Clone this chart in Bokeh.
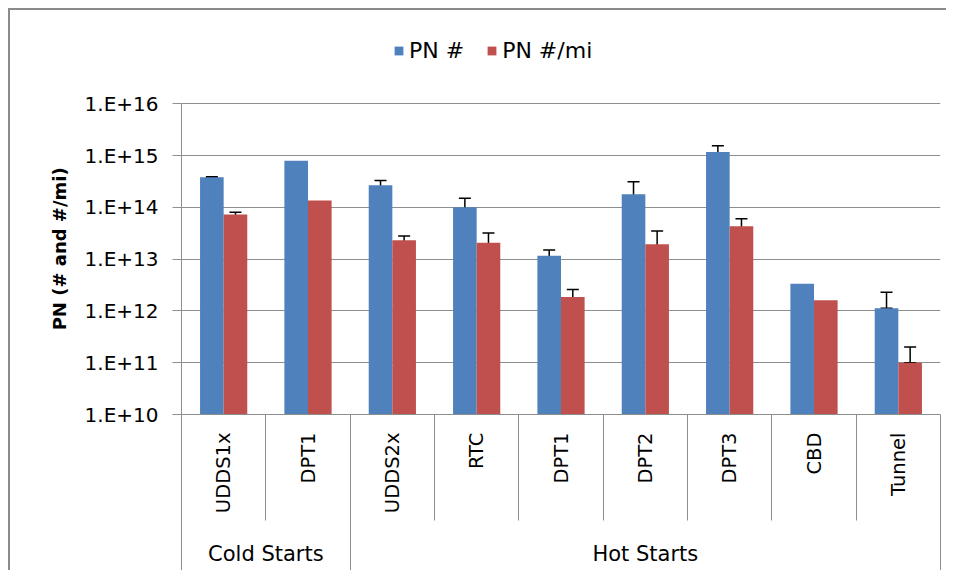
import math
from bokeh.plotting import figure
from bokeh.models import (ColumnDataSource, Range1d, LinearAxis, FixedTicker,
                          Whisker, TeeHead, Legend, LegendItem)
from bokeh.transform import dodge
from bokeh.embed import file_html
from bokeh.resources import INLINE

# ---------------- data ----------------
groups = ["Cold Starts", "Cold Starts", "Hot Starts", "Hot Starts", "Hot Starts",
          "Hot Starts", "Hot Starts", "Hot Starts", "Hot Starts"]
cycles = ["UDDS1x", "DPT1", "UDDS2x", "RTC", "DPT1", "DPT2", "DPT3", "CBD", "Tunnel"]

series_names = ["PN #", "PN #/mi"]
pn_total = [3.8e14, 7.9e14, 2.66e14, 1.0e14, 1.16e13, 1.78e14, 1.17e15, 3.35e12, 1.12e12]
pn_total_upper = [3.9e14, None, 3.3e14, 1.5e14, 1.5e13, 3.1e14, 1.55e15, None, 2.3e12]
pn_total_lower = [3.72e14, None, 2.1e14, 4.3e13, 7.7e12, 4.8e13, 8.2e14, None, 1.12e12]
pn_mile = [7.3e13, 1.36e14, 2.3e13, 2.07e13, 1.86e12, 1.93e13, 4.3e13, 1.6e12, 1.0e11]
pn_mile_upper = [8.0e13, None, 2.8e13, 3.2e13, 2.6e12, 3.5e13, 6.0e13, None, 2.0e11]
pn_mile_lower = [6.5e13, None, 1.8e13, 1.0e13, 1.3e12, 5.1e12, 2.9e13, None, 1.0e11]

y_ticks = [1e10, 1e11, 1e12, 1e13, 1e14, 1e15, 1e16]
y_tick_labels = ["1.E+10", "1.E+11", "1.E+12", "1.E+13", "1.E+14", "1.E+15", "1.E+16"]
y_title = "PN (# and #/mi)"

# ---------------- styles / layout ----------------
BLUE = "#4F81BD"
RED = "#C0504D"
GRID = "#8e8e8e"
FONT = "DejaVu Sans"
BAR_W = 0.28
OFF = 0.14
H, TOP, BOTTOM = 562, 10, 158
DECADE_PX = 51.8   # pixels per decade on the value axis
# headroom above the top tick so the legend sits inside the drawing frame
y_top = y_ticks[-1] * 10 ** ((H - TOP - BOTTOM) / DECADE_PX - (len(y_ticks) - 1))
# the axis title is centred on the whole frame; pad its far end so it centres on the ticked span
TITLE_PAD = "\u00a0" * 10

n = len(cycles)
centers = [i + 0.5 for i in range(n)]          # category slot centres on the index scale
bounds = [float(i) for i in range(n + 1)]       # category slot boundaries

source = ColumnDataSource(dict(x=centers, total=pn_total, mile=pn_mile))


def err_source(upper, lower):
    keep = [i for i in range(n) if upper[i] is not None]
    return ColumnDataSource(dict(x=[centers[i] for i in keep],
                                 upper=[upper[i] for i in keep],
                                 lower=[lower[i] for i in keep]))


p = figure(width=938, height=H,
           x_range=Range1d(bounds[0], bounds[-1]),
           y_range=Range1d(y_ticks[0], y_top), y_axis_type="log",
           x_axis_location=None, output_backend="svg", toolbar_location=None,
           min_border_left=171, min_border_right=8, min_border_top=TOP, min_border_bottom=BOTTOM)
p.styles = {"margin-left": "8px", "margin-top": "8px",
            "border-top": "2px solid #8a8a8a", "border-left": "2px solid #8a8a8a",
            "border-right": "0", "border-bottom": "0", "outline": "none", "box-shadow": "none"}
p.outline_line_color = None
p.background_fill_color = "white"
p.border_fill_color = "white"

# bars
r1 = p.vbar(x=dodge("x", -OFF), top="total", bottom=y_ticks[0],
            width=BAR_W, source=source, fill_color=BLUE, line_color=None)
r2 = p.vbar(x=dodge("x", OFF), top="mile", bottom=y_ticks[0],
            width=BAR_W, source=source, fill_color=RED, line_color=None)

# error bars
for off, up, lo in [(-OFF, pn_total_upper, pn_total_lower), (OFF, pn_mile_upper, pn_mile_lower)]:
    w = Whisker(source=err_source(up, lo), base=dodge("x", off),
                upper="upper", lower="lower", line_color="black", line_width=1.5,
                upper_head=TeeHead(size=12, line_color="black", line_width=1.5),
                lower_head=TeeHead(size=12, line_color="black", line_width=1.5))
    p.add_layout(w)

# y axis
yax = p.yaxis[0]
yax.bounds = (y_ticks[0], y_ticks[-1])
yax.ticker = FixedTicker(ticks=y_ticks)
yax.major_label_overrides = dict(zip(y_ticks, y_tick_labels))
yax.major_label_text_font = FONT
yax.major_label_text_font_size = "20px"
yax.major_label_text_color = "black"
yax.major_label_standoff = 14
yax.major_tick_out = 9
yax.major_tick_in = 0
yax.major_tick_line_color = GRID
yax.minor_tick_line_color = None
yax.axis_line_color = GRID
yax.axis_label = y_title + TITLE_PAD
yax.axis_label_text_font = FONT
yax.axis_label_text_font_size = "18px"
yax.axis_label_text_font_style = "bold"
yax.axis_label_text_color = "black"
yax.axis_label_standoff = 12

p.xgrid.grid_line_color = None
p.ygrid.grid_line_color = GRID
p.ygrid.grid_line_width = 1

# category axis: labels at slot centres, divider lines at slot boundaries
xax = LinearAxis(ticker=FixedTicker(ticks=centers, minor_ticks=bounds),
                 major_label_overrides={c: lab for c, lab in zip(centers, cycles)},
                 major_label_orientation=math.pi / 2,
                 major_label_standoff=18,
                 major_label_text_font=FONT, major_label_text_font_size="19.5px",
                 major_label_text_color="black",
                 major_tick_in=0, major_tick_out=0, major_tick_line_color=None,
                 minor_tick_in=-106, minor_tick_out=0, minor_tick_line_color=GRID,
                 minor_tick_line_width=1, axis_line_color=GRID)
p.add_layout(xax, "below")

# group axis
group_names = []
group_bounds = [bounds[0]]
for i, g in enumerate(groups):
    if not group_names or group_names[-1] != g:
        group_names.append(g)
        if i > 0:
            group_bounds.append(bounds[i])
group_bounds.append(bounds[-1])
group_centers = [(group_bounds[k] + group_bounds[k + 1]) / 2 for k in range(len(group_names))]
gax = LinearAxis(ticker=FixedTicker(ticks=group_centers, minor_ticks=group_bounds),
                 major_label_overrides={c: g for c, g in zip(group_centers, group_names)},
                 major_label_orientation="horizontal",
                 major_label_standoff=25,
                 major_label_text_font=FONT, major_label_text_font_size="21px",
                 major_label_text_color="black",
                 major_tick_in=0, major_tick_out=0, major_tick_line_color=None,
                 minor_tick_in=-60, minor_tick_out=0, minor_tick_line_color=GRID,
                 minor_tick_line_width=1, axis_line_color=None)
p.add_layout(gax, "below")

legend = Legend(items=[LegendItem(label=series_names[0], renderers=[r1]),
                       LegendItem(label=series_names[1], renderers=[r2])],
                orientation="horizontal", location=(212, 351),
                border_line_color=None, background_fill_alpha=0,
                glyph_width=11, glyph_height=11, label_standoff=5, spacing=22,
                padding=0, margin=0,
                label_text_font=FONT, label_text_font_size="22px", label_text_color="black")
p.add_layout(legend, "center")

open("out.html", "w").write(file_html(p, INLINE))
